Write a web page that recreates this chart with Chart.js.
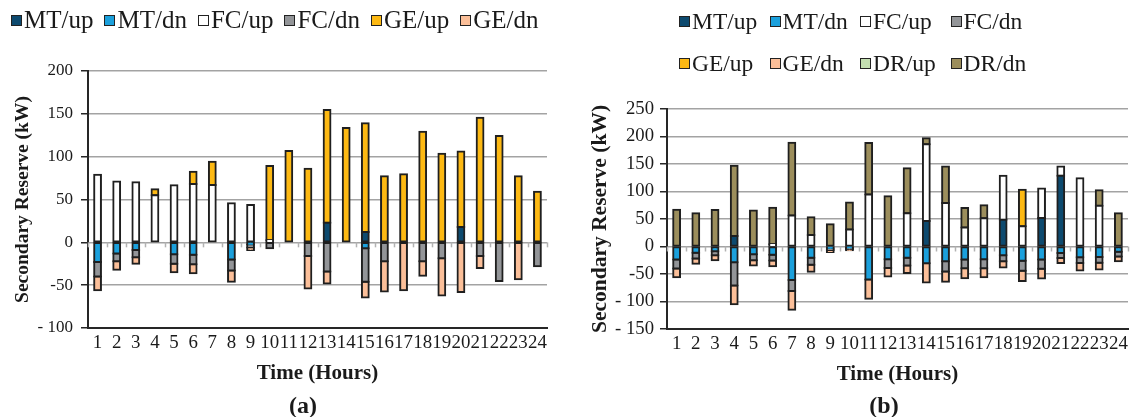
<!DOCTYPE html>
<html>
<head>
<meta charset="utf-8">
<script src="https://cdn.jsdelivr.net/npm/chart.js@4/dist/chart.umd.min.js"></script>
<style>
  html, body { margin: 0; padding: 0; background: #fff; }
  body { position: relative; width: 1133px; height: 417px; overflow: hidden; font-family: "Liberation Serif", "Times New Roman", serif; color: #1a1a1a; }
  .wrap { position: absolute; top: 0; height: 417px; }
  .legend { position: absolute; display: flex; align-items: center; white-space: nowrap; }
  .item { display: flex; align-items: center; }
  .box { width: 11px; height: 11px; box-sizing: border-box; border: 1.5px solid #222; margin-right: 2px; }
  .panel { position: absolute; font-weight: bold; font-size: 24px; transform: translate(-50%, -50%); }
</style>
</head>
<body>
<div class="wrap" style="left:0;width:560px"><canvas id="chartA" width="560" height="417"></canvas></div>
<div class="wrap" style="left:575px;width:558px"><canvas id="chartB" width="558" height="417"></canvas></div>
<div id="legendA" class="legend" style="left:11px;top:6px;height:28px;font-size:25px"></div>
<div id="legendB" class="legend" style="left:679px;top:0;width:440px;flex-wrap:wrap;font-size:23.5px"></div>
<div class="panel" style="left:303px;top:405px">(a)</div>
<div class="panel" style="left:884px;top:405px">(b)</div>
<script>
// Hours of the day
const hours = ['1','2','3','4','5','6','7','8','9','10','11','12','13','14','15','16','17','18','19','20','21','22','23','24'];

// Case (a): secondary reserve per unit (kW)
const mtUpA = [0,0,0,0,0,0,0,0,0,0,0,0,23,0,12,0,0,0,0,18,0,0,0,0];
const mtDnA = [-23,-13,-9,0,-14,-14.5,0,-20,-2.5,0,0,0,0,0,-7,0,0,0,0,0,0,0,0,0];
const fcUpA = [79,71,70,55,66.5,68,67,45.5,43.5,2.5,0,0,0,0,0,0,0,0,0,0,0,0,0,0];
const fcDnA = [-17,-9,-8.5,0,-11,-11,0,-13,-3.5,-7,0,-16,-34,0,-39,-22,0,-22,-18.5,0,-16,-45,0,-28];
const geUpA = [0,0,0,7,0,14.5,27,0,0,86.5,106.5,86,131.5,133.5,127,77,79.5,129,103.5,88,145.5,124,77,59];
const geDnA = [-16,-10,-7.5,0,-10,-10.5,0,-13,-3,0,0,-38,-14,0,-18.5,-35.5,-56,-17,-43.5,-58,-14,0,-43,0];

// Case (b): secondary reserve per unit including demand response (kW)
const mtUpB = [0,0,0,19,0,0,0,0,0,0,0,0,0,46.5,0,0,0,48.5,0,52,128.5,0,0,0];
const mtDnB = [-23.5,-11.5,-8.5,-28.5,-14,-15,-61,-20.5,-3,-2,-60,-23,-20.5,-30.5,-27,-23.5,-23,-16,-26,-23.5,-12,-19.5,-19,-9.5];
const fcUpB = [0,0,0,0,0,4,56.5,21,0,31,94.5,0,60.5,139.5,79,34.5,51.5,80,37,53.5,17,124,74,0];
const fcDnB = [-16.5,-10.5,-7.5,-42.5,-11,-10.5,-20,-12.5,-3.5,-2.5,0,-16,-14,0,-18.5,-16,-16.5,-11,-18,-17,-9,-10.5,-10.5,-8.5];
const geUpB = [0,0,0,0,0,0,0,0,0,0,0,0,0,0,0,0,0,0,66,0,0,0,0,0];
const geDnB = [-16,-9.5,-9,-34,-9.5,-10.5,-34,-13,-3.5,-2.5,-35,-15.5,-13.5,-35,-18.5,-18,-16.5,-11,-18.5,-17.5,-9,-13.5,-12.5,-9];
const drUpB = [0,0,0,0,0,0,0,0,0,0,0,0,0,0,0,0,0,0,0,0,0,0,0,0];
const drDnB = [67,60.5,66.5,128,65.5,66.5,132,32,40.5,49,93.5,91.5,82,11,66.5,35.5,23.5,0,0,0,0,0,28.5,60.5];

// Axis tick values
const ticksA = [-100,-50,0,50,100,150,200];
const ticksB = [-150,-100,-50,0,50,100,150,200,250];

// Series names and fill colours
const names = ['MT/up','MT/dn','FC/up','FC/dn','GE/up','GE/dn','DR/up','DR/dn'];
const fills = {
  'MT/up': '#0d4a6f', 'MT/dn': '#1ba0dc', 'FC/up': '#ffffff', 'FC/dn': '#939598',
  'GE/up': '#fdb913', 'GE/dn': '#fbbf99', 'DR/up': '#c4dfb1', 'DR/dn': '#9c8e5c'
};

const seriesA = [mtUpA, mtDnA, fcUpA, fcDnA, geUpA, geDnA];
const seriesB = [mtUpB, mtDnB, fcUpB, fcDnB, geUpB, geDnB, drUpB, drDnB];

Chart.defaults.font.family = '"Liberation Serif", "Times New Roman", serif';
Chart.defaults.color = '#1a1a1a';

// Outlines are centred on each segment edge (inflate by half the border),
// so touching segments share one dark line.
function makeDatasets(series) {
  return series.map((vals, i) => ({
    label: names[i],
    data: vals.map(v => (v === 0 ? null : v)),
    backgroundColor: fills[names[i]],
    borderColor: '#1f1f1f',
    borderWidth: 2,
    inflateAmount: 1,
    borderSkipped: false,
    categoryPercentage: 1,
    barPercentage: 0.355,
    stack: 'r'
  }));
}

// Short category tick marks hanging below the zero line
const zeroTicks = {
  id: 'zeroTicks',
  beforeDatasetsDraw(chart) {
    const xs = chart.scales.x, ys = chart.scales.y, ctx = chart.ctx;
    const y0 = ys.getPixelForValue(0);
    const n = xs.getLabels().length;
    const w = (xs.right - xs.left) / n;
    ctx.save();
    ctx.strokeStyle = '#b3b3b3';
    ctx.lineWidth = 1.5;
    for (let i = 0; i <= n; i++) {
      const px = Math.round(xs.left + i * w) + 0.5;
      ctx.beginPath();
      ctx.moveTo(px, y0);
      ctx.lineTo(px, y0 + 5);
      ctx.stroke();
    }
    ctx.restore();
  }
};

function tickText(v) {
  return v <= -100 ? '- ' + Math.abs(v) : String(v);
}

function build(id, series, tickVals, cfg) {
  new Chart(document.getElementById(id), {
    type: 'bar',
    data: { labels: hours, datasets: makeDatasets(series) },
    plugins: [zeroTicks],
    options: {
      responsive: false,
      animation: false,
      layout: { padding: { top: cfg.top, right: cfg.right, left: 0, bottom: 0 } },
      plugins: { legend: { display: false }, tooltip: { enabled: false } },
      scales: {
        x: {
          stacked: true,
          offset: true,
          grid: { display: false, drawTicks: false },
          border: { display: true, color: '#262626', width: 2 },
          ticks: { autoSkip: false, maxRotation: 0, minRotation: 0, padding: 4, font: { size: 18.9 }, color: '#1a1a1a' },
          title: { display: true, text: 'Time (Hours)', font: { size: 21, weight: 'bold' }, color: '#1a1a1a', padding: { top: 0, bottom: cfg.xTitlePad } },
          afterFit(s) { s.height = cfg.xHeight; }
        },
        y: {
          stacked: true,
          min: tickVals[0],
          max: tickVals[tickVals.length - 1],
          afterBuildTicks(s) { s.ticks = tickVals.map(v => ({ value: v })); },
          grid: { color: '#a3a3a3', lineWidth: 1.5, tickColor: '#262626', tickLength: 7, drawTicks: true },
          border: { display: true, color: '#262626', width: 2 },
          ticks: { padding: cfg.yTickPad, font: { size: cfg.yTickSize }, color: '#1a1a1a', callback: v => tickText(v) },
          title: { display: true, text: 'Secondary Reserve (kW)', font: { size: cfg.yTitleSize, weight: 'bold' }, color: '#1a1a1a', padding: { top: cfg.yTitlePad, bottom: 0 } },
          afterFit(s) { s.width = cfg.yWidth; }
        }
      }
    }
  });
}

build('chartA', seriesA, ticksA, { top: 71, right: 13, xHeight: 89, xTitlePad: 31, yWidth: 88, yTickPad: 8, yTickSize: 17, yTitleSize: 19.5, yTitlePad: 11 });
build('chartB', seriesB, ticksB, { top: 109, right: 5, xHeight: 88, xTitlePad: 30, yWidth: 92, yTickPad: 6, yTickSize: 18.7, yTitleSize: 21.5, yTitlePad: 13 });

// Legends built from the series names
function legendItem(name) {
  const it = document.createElement('div');
  it.className = 'item';
  const b = document.createElement('span');
  b.className = 'box';
  b.style.background = fills[name];
  const t = document.createElement('span');
  t.textContent = name;
  it.appendChild(b);
  it.appendChild(t);
  return it;
}
const legA = document.getElementById('legendA');
names.slice(0, seriesA.length).forEach((n, i) => {
  const it = legendItem(n);
  if (i > 0) it.style.marginLeft = '11px';
  legA.appendChild(it);
});
const legB = document.getElementById('legendB');
names.slice(0, seriesB.length).forEach((n, i) => {
  const it = legendItem(n);
  it.style.width = '90.5px';
  it.style.height = '42px';
  legB.appendChild(it);
});
</script>
</body>
</html>
